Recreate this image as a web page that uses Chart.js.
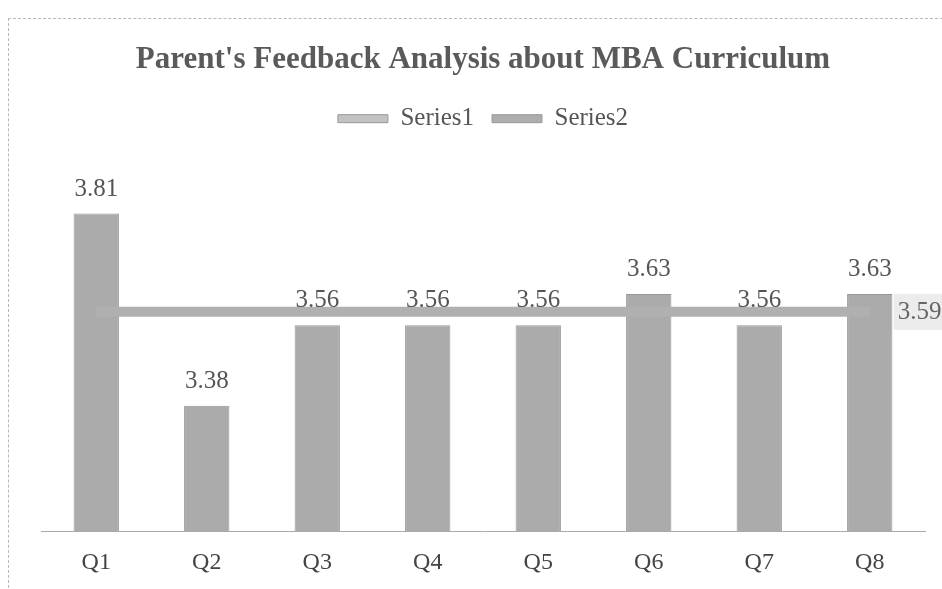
<!DOCTYPE html>
<html>
<head>
<meta charset="utf-8">
<script src="https://cdn.jsdelivr.net/npm/chart.js@4.4.0/dist/chart.umd.min.js"></script>
<style>
  html, body { margin: 0; padding: 0; background: #fff; }
  #wrap { position: relative; width: 942px; height: 589px; }
  #frame { position: absolute; left: 8px; top: 18px; width: 940px; height: 580px;
           border: 1px dashed #b8b8b8; box-sizing: border-box; }
  canvas { position: absolute; left: 0; top: 0; }
</style>
</head>
<body>
<div id="wrap">
  <div id="frame"></div>
  <canvas id="feedback-chart" width="942" height="589"></canvas>
</div>
<script>
// data
const categories = ['Q1', 'Q2', 'Q3', 'Q4', 'Q5', 'Q6', 'Q7', 'Q8'];
const series1 = [3.81, 3.38, 3.56, 3.56, 3.56, 3.63, 3.56, 3.63];
const series2 = [3.59, 3.59, 3.59, 3.59, 3.59, 3.59, 3.59, 3.59];
const yMin = 3.1;
const yMax = 3.9;

const serif = "'Liberation Serif', 'DejaVu Serif', serif";

// value labels: above every bar, and only at the end of the average line
const valueLabels = {
  id: 'valueLabels',
  beforeInit(chart) {
    // leave room between the legend and the plot
    const legend = chart.legend;
    const fit = legend.fit;
    legend.fit = function () {
      fit.call(this);
      this.height = 85;
    };
  },
  afterDatasetsDraw(chart) {
    const ctx = chart.ctx;
    ctx.save();
    ctx.font = '25px ' + serif;
    ctx.textAlign = 'center';
    ctx.textBaseline = 'bottom';
    ctx.fillStyle = '#555';
    chart.getDatasetMeta(0).data.forEach((bar, i) => {
      ctx.fillText(series1[i].toFixed(2), bar.x, bar.y - 12);
    });

    // Series2 label at the last point
    const pts = chart.getDatasetMeta(1).data;
    const last = pts[pts.length - 1];
    const txt = series2[series2.length - 1].toFixed(2);
    ctx.fillStyle = '#ececec';
    ctx.fillRect(last.x + 24, last.y - 18, 52, 36);
    ctx.fillStyle = '#666';
    ctx.textAlign = 'left';
    ctx.textBaseline = 'middle';
    ctx.fillText(txt, last.x + 28, last.y + 1);
    ctx.restore();
  }
};

document.addEventListener('DOMContentLoaded', () => {
  const ctx = document.getElementById('feedback-chart').getContext('2d');

  new Chart(ctx, {
    type: 'bar',
    data: {
      labels: categories,
      datasets: [
        {
          label: 'Series1',
          data: series1,
          backgroundColor: '#ababab',
          borderColor: '#959595',
          borderWidth: 1,
          barPercentage: 0.41,
          categoryPercentage: 1,
          order: 2
        },
        {
          type: 'line',
          label: 'Series2',
          data: series2,
          borderColor: '#b0b0b0',
          backgroundColor: '#b0b0b0',
          borderWidth: 10,
          pointRadius: 0,
          fill: false,
          order: 1
        }
      ]
    },
    options: {
      responsive: false,
      animation: false,
      layout: { padding: { left: 41, right: 17, top: 0, bottom: 0 } },
      plugins: {
        title: {
          display: true,
          text: "Parent's Feedback Analysis about MBA Curriculum",
          color: '#5a5a5a',
          font: { family: serif, size: 31, weight: 'bold' },
          padding: { top: 41, bottom: 10 }
        },
        legend: {
          display: true,
          sort: (a, b) => a.datasetIndex - b.datasetIndex,
          labels: {
            color: '#555',
            font: { family: serif, size: 25 },
            boxWidth: 50,
            boxHeight: 8,
            padding: 18,
            generateLabels: (chart) => chart.data.datasets.map((ds, i) => ({
              text: ds.label,
              fillStyle: i === 0 ? '#c2c2c2' : '#adadad',
              strokeStyle: '#999',
              lineWidth: 1,
              fontColor: '#555',
              datasetIndex: i
            }))
          }
        },
        tooltip: { enabled: false }
      },
      scales: {
        x: {
          grid: { display: false, drawTicks: false },
          border: { display: true, color: '#aaa', dash: [2, 2] },
          ticks: { color: '#444', font: { family: serif, size: 24 }, padding: 17 },
          afterFit: (scale) => { scale.height = 58; }
        },
        y: {
          display: false,
          min: yMin,
          max: yMax
        }
      }
    },
    plugins: [valueLabels]
  });
});
</script>
</body>
</html>
